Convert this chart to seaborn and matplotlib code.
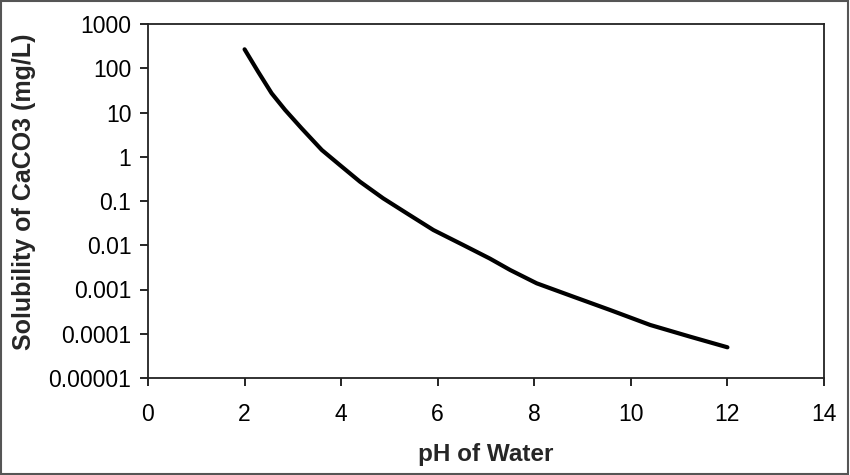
import numpy as np
import matplotlib
matplotlib.use("Agg")
import matplotlib.pyplot as plt
import pandas as pd
import seaborn as sns
from matplotlib.patches import Rectangle

# values (pH vs solubility, mg/L)
ph = [2.0, 2.28, 2.56, 2.84, 3.18, 3.60, 3.98, 4.39, 4.87, 5.36, 5.91,
      6.53, 7.08, 7.50, 8.05, 8.81, 9.57, 10.40, 11.23, 12.0]
solubility = [268, 83.6, 27.2, 11.4, 4.40, 1.42, 0.64, 0.273, 0.115, 0.0527, 0.0221,
              0.0101, 0.0050, 0.00276, 0.00138, 0.000687, 0.000344, 0.000158, 0.0000857, 0.0000494]
ytick_vals = [1e-5, 1e-4, 1e-3, 1e-2, 1e-1, 1, 10, 100, 1000]
ytick_labels = ["0.00001", "0.0001", "0.001", "0.01", "0.1", "1", "10", "100", "1000"]
xtick_vals = [0, 2, 4, 6, 8, 10, 12, 14]

df = pd.DataFrame({"pH": ph, "sol": solubility})

sns.set_theme(style="ticks")
plt.rcParams['font.family'] = ['Liberation Sans', 'DejaVu Sans']

fig = plt.figure(figsize=(8.5, 4.75), dpi=100)
ax = fig.add_axes([148/850, 97/475, 676/850, 354/475])

sns.lineplot(data=df, x="pH", y="sol", color="black", linewidth=3, ax=ax)

ax.set_yscale("log")
ax.set_ylim(1e-5, 1000)
ax.set_xlim(0, 14)
ax.set_yticks(ytick_vals)
ax.set_yticklabels(ytick_labels)
ax.yaxis.set_minor_locator(matplotlib.ticker.NullLocator())
ax.set_xticks(xtick_vals)
ax.set_xticklabels([str(v) for v in xtick_vals])

ax.tick_params(axis="both", direction="out", length=6, width=1.2, color="black",
               labelsize=16.5, labelcolor="black", pad=6)
ax.tick_params(axis="x", pad=12)
for s in ax.spines.values():
    s.set_visible(True)
    s.set_color("#222222")
    s.set_linewidth(1.3)

ax.set_xlabel("pH of Water", fontsize=17.5, fontweight="bold")
ax.set_ylabel("Solubility of CaCO3 (mg/L)", fontsize=18, fontweight="bold")
ax.xaxis.set_label_coords(0.5, -0.185)
ax.yaxis.set_label_coords(-0.165, 0.525)

# outer frame around the whole picture
fig.patches.append(Rectangle((0.001, 0.002), 0.997, 0.996, transform=fig.transFigure,
                             fill=False, edgecolor="#555555", linewidth=1.5))

fig.savefig("out.png", dpi=100)
